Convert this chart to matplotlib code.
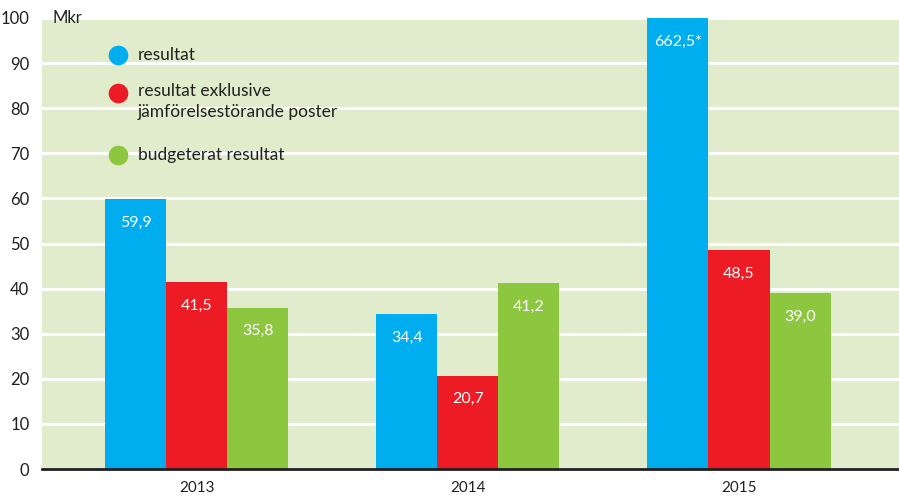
import numpy as np
import matplotlib.pyplot as plt

plt.rcParams['font.family'] = ['Lato', 'DejaVu Sans']

years = ['2013', '2014', '2015']
series_names = ['resultat',
                'resultat exklusive\njämförelsestörande poster',
                'budgeterat resultat']
resultat = [59.9, 34.4, 662.5]
resultat_exkl = [41.5, 20.7, 48.5]
budget = [35.8, 41.2, 39.0]
labels = [['59,9', '34,4', '662,5*'],
          ['41,5', '20,7', '48,5'],
          ['35,8', '41,2', '39,0']]
yticks = [0, 10, 20, 30, 40, 50, 60, 70, 80, 90, 100]

colors = ['#00AEEF', '#ED1C24', '#8DC63F']
bg = '#E0ECCB'
ymax = 100

fig = plt.figure(figsize=(8.99, 4.99), dpi=100)
ax = fig.add_axes([42 / 899, 30 / 499, 857 / 899, 451 / 499])
ax.set_facecolor(bg)

x = np.arange(len(years))
width = 0.225
all_series = [resultat, resultat_exkl, budget]
for i, vals in enumerate(all_series):
    pos = x + (i - 1) * width
    shown = np.minimum(vals, ymax)  # 2015 bar runs off the scale
    ax.bar(pos, shown, width, color=colors[i], zorder=3, linewidth=0)
    for p, h, lab in zip(pos, shown, labels[i]):
        ax.annotate(lab, (p, h), xytext=(0, -17), textcoords='offset points',
                    ha='center', va='center', color='white', fontsize=11.5,
                    zorder=4)

ax.set_ylim(0, ymax)
ax.set_xlim(-0.57, 2.59)
ax.set_yticks(yticks)
ax.set_yticklabels([str(t) for t in yticks], fontsize=12, color='#231F20')
ax.set_xticks(x)
ax.set_xticklabels(years, fontsize=11, color='#231F20')
ax.tick_params(axis='both', length=0)
ax.tick_params(axis='y', pad=9)
ax.tick_params(axis='x', pad=9)
ax.yaxis.grid(True, color='white', linewidth=2.2, zorder=1)
ax.set_axisbelow(True)
for s in ['top', 'right', 'left']:
    ax.spines[s].set_visible(False)
ax.spines['bottom'].set_linewidth(2)
ax.spines['bottom'].set_color('#231F20')
ax.spines['bottom'].set_zorder(5)

ax.text(10 / 857, 1.0, 'Mkr', transform=ax.transAxes, fontsize=12,
        color='#231F20', va='center', ha='left')

# legend drawn by hand: dots with text beside them
leg_y = [55, 93, 155]
for name, c, yy in zip(series_names, colors, leg_y):
    ya = (469 - yy) / 451
    ax.scatter([(118 - 42) / 857], [ya], s=200, color=c, transform=ax.transAxes,
               zorder=6, clip_on=False, linewidths=0)
    if '\n' in name:
        ax.text((138 - 42) / 857, ya + 10 / 451, name, transform=ax.transAxes,
                fontsize=12.5, color='#231F20', va='top', ha='left',
                linespacing=1.35)
    else:
        ax.text((138 - 42) / 857, ya, name, transform=ax.transAxes,
                fontsize=12.5, color='#231F20', va='center', ha='left')

fig.savefig('out.png', dpi=100)
